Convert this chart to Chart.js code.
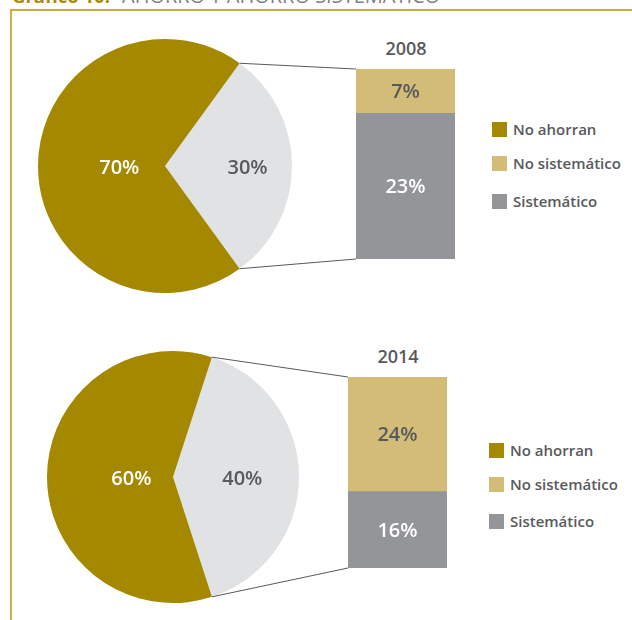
<!DOCTYPE html>
<html><head><meta charset="utf-8">
<script src="https://cdn.jsdelivr.net/npm/chart.js@4/dist/chart.umd.min.js"></script>
<style>
html,body{margin:0;padding:0;background:#fff;width:632px;height:620px;overflow:hidden;position:relative;font-family:"Open Sans","Noto Sans",sans-serif;}
.abs{position:absolute;}
canvas{display:block;}
#frame{left:10px;top:9px;width:640px;height:640px;border-top:2px solid #c8ab42;border-left:2px solid #cbb14e;}
#title{left:12px;top:-14px;font-size:20px;line-height:20px;white-space:nowrap;color:#808183;}
#title b{color:#a98c0e;font-size:18.5px;margin-right:12px;}
.year{font-size:18px;font-weight:600;color:#58595b;width:100px;text-align:center;}
.leg{font-size:15px;font-weight:600;color:#58595b;white-space:nowrap;}
.leg i{display:inline-block;width:15px;height:15px;vertical-align:-2px;margin-right:6px;}
</style></head>
<body>
<div id="title" class="abs"><b>Gráfico 10:</b>AHORRO Y AHORRO SISTEMÁTICO</div>
<div id="frame" class="abs"></div>
<div class="abs" style="left:38px;top:39px"><canvas id="pie0" width="254" height="254"></canvas></div>
<div class="abs" style="left:47px;top:351px"><canvas id="pie1" width="252" height="252"></canvas></div>
<div class="abs" style="left:356px;top:69px"><canvas id="bar0" width="99" height="190"></canvas></div>
<div class="abs" style="left:348px;top:377px"><canvas id="bar1" width="99" height="191"></canvas></div>
<div id="year0" class="abs year" style="left:356px;top:36px"></div>
<div id="year1" class="abs year" style="left:348px;top:344px"></div>
<div id="leg0" class="abs" style="left:492px;top:119px"></div>
<div id="leg1" class="abs" style="left:489px;top:440px"></div>
<canvas id="overlay" class="abs" width="632" height="620" style="left:0;top:0;pointer-events:none"></canvas>
<script>
const years = ['2008', '2014'];
const pieLabels = ['Ahorran', 'No ahorran'];
const ahorran = [30, 40];
const noAhorran = [70, 60];
const barLabels = ['Sistemático', 'No sistemático'];
const sistematico = [23, 16];
const noSistematico = [7, 24];
const legendLabels = ['No ahorran', 'No sistemático', 'Sistemático'];

const GOLD = '#a38800', LIGHT = '#e1e2e4', TAN = '#d2bc78', GREY = '#939598', DARK = '#58595b';
const FONT = '"Open Sans","Noto Sans",sans-serif';
const pieLabelRadius = [[0.65, 0.36], [0.55, 0.33]];

const sliceLabels = {
  id: 'sliceLabels',
  afterDatasetsDraw(chart, args, opts) {
    const ctx = chart.ctx;
    const meta = chart.getDatasetMeta(0);
    const data = chart.data.datasets[0].data;
    ctx.save();
    ctx.font = '600 20px ' + FONT;
    ctx.textAlign = 'center';
    ctx.textBaseline = 'middle';
    meta.data.forEach((el, i) => {
      const p = el.getProps(['x', 'y', 'startAngle', 'endAngle', 'outerRadius'], true);
      const a = (p.startAngle + p.endAngle) / 2;
      const r = p.outerRadius * opts.radii[i];
      ctx.fillStyle = opts.colors[i];
      ctx.fillText(data[i] + '%', p.x + Math.cos(a) * r, p.y + Math.sin(a) * r + 2);
    });
    ctx.restore();
  }
};

const segLabels = {
  id: 'segLabels',
  afterDatasetsDraw(chart, args, opts) {
    const ctx = chart.ctx;
    ctx.save();
    ctx.font = '600 20px ' + FONT;
    ctx.textAlign = 'center'; ctx.textBaseline = 'middle';
    chart.data.datasets.forEach((ds, di) => {
      const el = chart.getDatasetMeta(di).data[0];
      const p = el.getProps(['x', 'y', 'base'], true);
      ctx.fillStyle = opts.colors[di];
      ctx.fillText(ds.data[0] + '%', p.x, (p.y + p.base) / 2 + 1);
    });
    ctx.restore();
  }
};

const pies = [], bars = [];
years.forEach((yr, k) => {
  document.getElementById('year' + k).textContent = yr;
  pies.push(new Chart(document.getElementById('pie' + k), {
    type: 'pie',
    data: { labels: pieLabels, datasets: [{ data: [ahorran[k], noAhorran[k]], backgroundColor: [LIGHT, GOLD], borderWidth: 0, hoverOffset: 0 }] },
    options: {
      responsive: false, animation: false, events: [],
      rotation: 90 - ahorran[k] * 3.6 / 2,
      layout: { padding: 0 },
      plugins: { legend: { display: false }, tooltip: { enabled: false },
        sliceLabels: { radii: pieLabelRadius[k], colors: [DARK, '#ffffff'] } }
    },
    plugins: [sliceLabels]
  }));
  bars.push(new Chart(document.getElementById('bar' + k), {
    type: 'bar',
    data: { labels: [yr], datasets: [
      { label: barLabels[0], data: [sistematico[k]], backgroundColor: GREY, borderWidth: 0 },
      { label: barLabels[1], data: [noSistematico[k]], backgroundColor: TAN, borderWidth: 0 }
    ] },
    options: {
      responsive: false, animation: false, events: [],
      layout: { padding: 0 },
      datasets: { bar: { barPercentage: 1, categoryPercentage: 1 } },
      scales: {
        x: { stacked: true, display: false },
        y: { stacked: true, display: false, min: 0, max: ahorran[k] }
      },
      plugins: { legend: { display: false }, tooltip: { enabled: false },
        segLabels: { colors: ['#ffffff', DARK] } }
    },
    plugins: [segLabels]
  }));
  const leg = document.getElementById('leg' + k);
  const legCols = [GOLD, TAN, GREY];
  const gaps = k === 0 ? [0, 34, 38] : [0, 34, 37];
  let top = 0;
  legendLabels.forEach((t, i) => {
    top += gaps[i];
    const d = document.createElement('div');
    d.className = 'abs leg';
    d.style.left = '0px'; d.style.top = top + 'px';
    d.innerHTML = '<i style="background:' + legCols[i] + '"></i>' + t;
    leg.appendChild(d);
  });
});

// connector lines between the "ahorran" slice and the stacked bar
const ov = document.getElementById('overlay').getContext('2d');
ov.strokeStyle = '#58595b';
ov.lineWidth = 1;
const offs = [[[38, 39], [356, 69]], [[47, 351], [348, 377]]];
pies.forEach((pc, k) => {
  const arc = pc.getDatasetMeta(0).data[0].getProps(['x', 'y', 'startAngle', 'endAngle', 'outerRadius'], true);
  const bc = bars[k];
  const bottomEl = bc.getDatasetMeta(0).data[0].getProps(['x', 'y', 'base', 'width'], true);
  const topEl = bc.getDatasetMeta(1).data[0].getProps(['x', 'y', 'base', 'width'], true);
  const [po, bo] = offs[k];
  const cx = po[0] + arc.x, cy = po[1] + arc.y, r = arc.outerRadius;
  const p1 = [cx + Math.cos(arc.startAngle) * r, cy + Math.sin(arc.startAngle) * r];
  const p2 = [cx + Math.cos(arc.endAngle) * r, cy + Math.sin(arc.endAngle) * r];
  const bx = bo[0] + topEl.x - topEl.width / 2;
  const bTop = bo[1] + topEl.y, bBot = bo[1] + bottomEl.base;
  ov.beginPath();
  ov.moveTo(p1[0], p1[1]); ov.lineTo(bx, bTop);
  ov.moveTo(p2[0], p2[1]); ov.lineTo(bx, bBot);
  ov.stroke();
});
</script>
</body></html>
